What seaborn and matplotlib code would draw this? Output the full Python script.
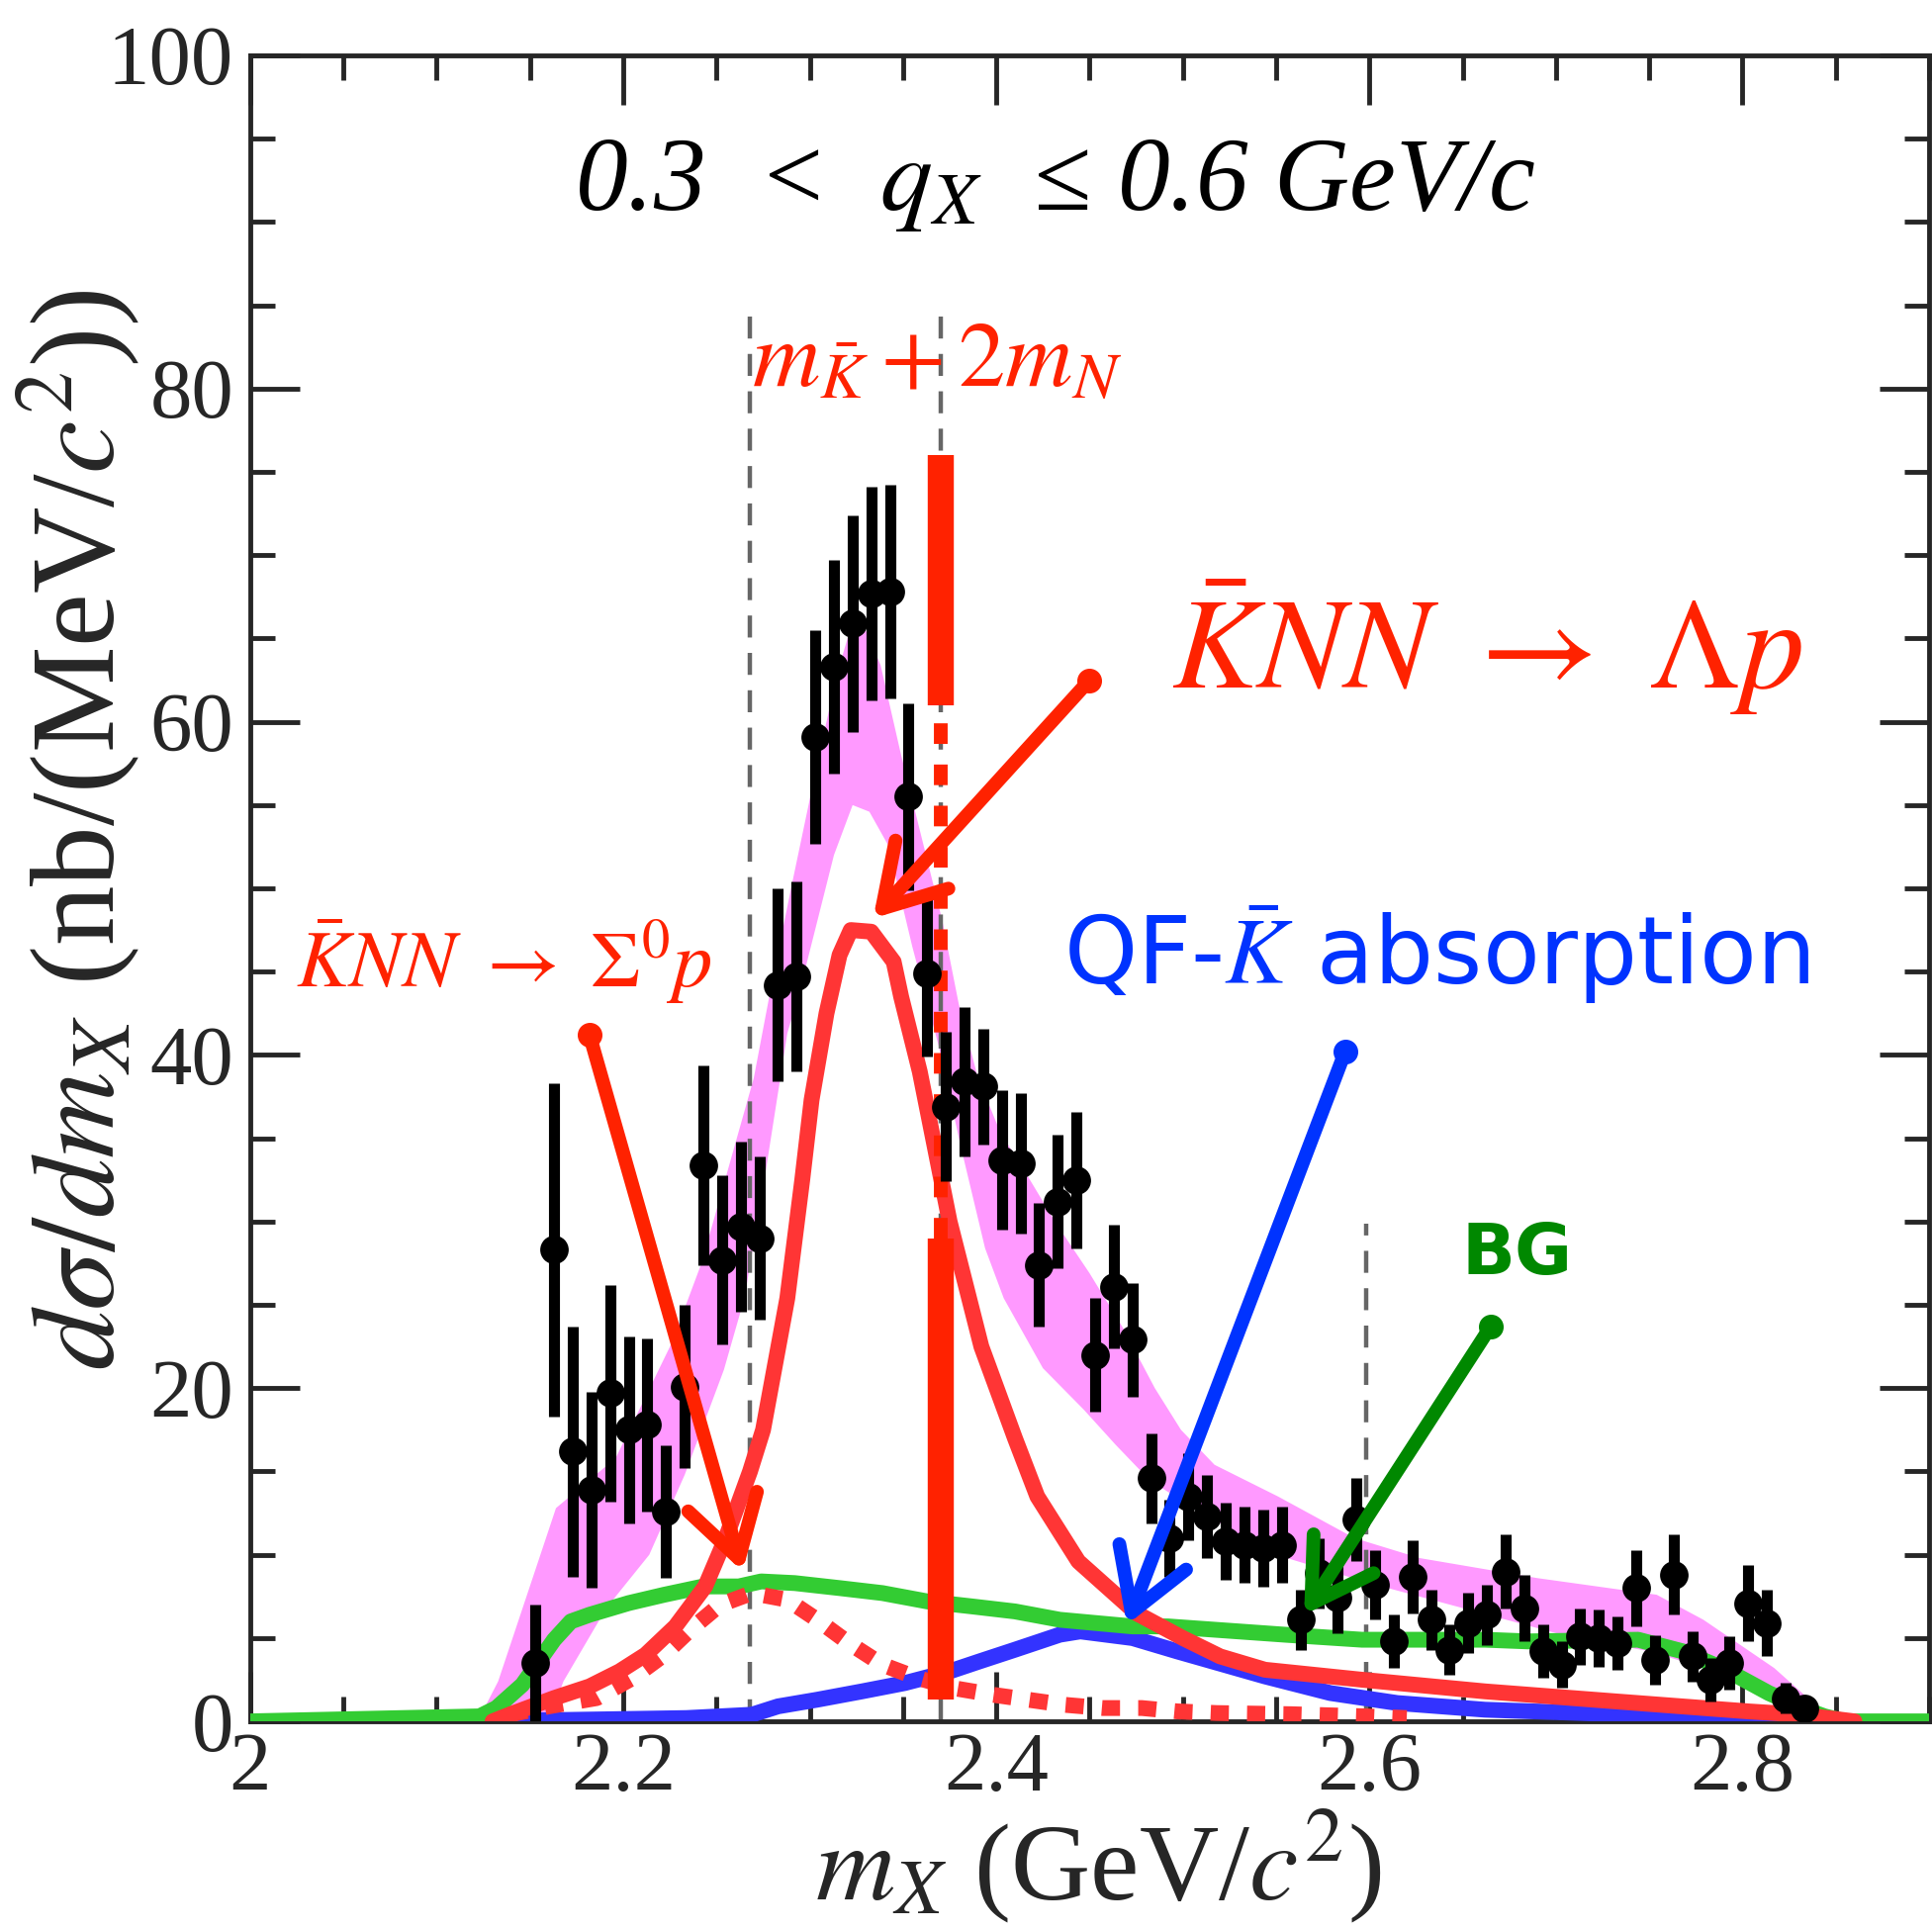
"""
plot.py
d(sigma)/dm_X spectrum for 0.3 < q_X <= 0.6 GeV/c with fit components.
"""

import numpy as np
import pandas as pd
import matplotlib
matplotlib.use('Agg')
import matplotlib.pyplot as plt
import seaborn as sns

# ---- measured points (GeV/c^2, nb/(MeV/c^2)) ----
m_x = [2.153, 2.163, 2.173, 2.183, 2.193, 2.203, 2.213, 2.223, 2.233, 2.243,
       2.253, 2.263, 2.273, 2.283, 2.293, 2.303, 2.313, 2.323, 2.333, 2.343,
       2.353, 2.363, 2.373, 2.383, 2.393, 2.403, 2.413, 2.423, 2.433, 2.443,
       2.453, 2.463, 2.473, 2.483, 2.493, 2.503, 2.513, 2.523, 2.533, 2.543,
       2.553, 2.563, 2.573, 2.583, 2.593, 2.603, 2.613, 2.623, 2.633, 2.643,
       2.653, 2.663, 2.673, 2.683, 2.693, 2.703, 2.713, 2.723, 2.733, 2.743,
       2.753, 2.763, 2.773, 2.783, 2.793, 2.803, 2.813, 2.823, 2.833]
xsec = [3.5, 28.3, 16.2, 13.9, 19.7, 17.5, 17.8, 12.6, 20.1, 33.4,
        27.7, 29.7, 29.0, 44.2, 44.7, 59.1, 63.3, 65.9, 67.7, 67.8,
        55.5, 44.9, 36.9, 38.4, 38.1, 33.7, 33.5, 27.4, 31.2, 32.5,
        22.0, 26.1, 22.9, 14.6, 11.0, 13.5, 12.3, 10.8, 10.6, 10.4,
        10.6, 6.1, 8.9, 7.4, 12.1, 8.2, 4.8, 8.7, 6.1, 4.3,
        5.9, 6.4, 9.0, 6.8, 4.2, 3.4, 5.1, 5.0, 4.7, 8.0,
        3.7, 8.8, 3.9, 2.5, 3.5, 7.1, 5.9, 1.4, 0.8]
xsec_err = [3.5, 10.0, 7.5, 5.9, 6.5, 5.6, 5.2, 4.0, 4.9, 6.0,
            5.1, 5.1, 4.9, 5.8, 5.7, 6.4, 6.4, 6.5, 6.4, 6.4,
            5.6, 5.0, 4.5, 4.5, 3.5, 4.2, 4.2, 3.7, 4.0, 4.1,
            3.4, 3.7, 3.4, 2.7, 2.3, 2.6, 2.5, 2.3, 2.3, 2.3,
            2.3, 1.8, 2.1, 2.1, 2.5, 2.1, 1.6, 2.2, 1.8, 1.5,
            1.8, 1.8, 2.2, 2.0, 1.6, 1.4, 1.7, 1.7, 1.6, 2.3,
            1.5, 2.4, 1.5, 1.3, 1.6, 2.3, 2.0, 0.9, 0.6]

# ---- total fit band (magenta) ----
band_hi_x = [2.122, 2.133, 2.164, 2.196, 2.226, 2.242, 2.270, 2.279, 2.290, 2.305,
             2.315, 2.325, 2.338, 2.349, 2.359, 2.371, 2.380, 2.390, 2.402, 2.417,
             2.432, 2.450, 2.468, 2.485, 2.499, 2.517, 2.551, 2.592, 2.627, 2.690,
             2.754, 2.779, 2.817, 2.837, 2.845]
band_hi_y = [0.0, 2.4, 12.8, 15.8, 22.7, 27.5, 38.6, 43.9, 50.0, 58.0,
             63.0, 66.8, 63.4, 58.0, 53.5, 48.1, 43.0, 38.7, 35.4, 32.7,
             29.9, 26.9, 23.6, 20.0, 17.5, 15.4, 13.5, 11.0, 9.8, 8.6,
             7.6, 6.1, 3.2, 1.2, 0.0]
band_lo_x = [2.160, 2.168, 2.191, 2.214, 2.233, 2.254, 2.265, 2.275, 2.288, 2.295,
             2.313, 2.323, 2.332, 2.342, 2.355, 2.369, 2.381, 2.394, 2.404, 2.425,
             2.447, 2.464, 2.482, 2.500, 2.526, 2.550, 2.600, 2.650, 2.700, 2.750,
             2.780, 2.830, 2.845]
band_lo_y = [0.0, 2.4, 6.8, 10.0, 14.8, 21.1, 25.4, 32.0, 41.3, 44.0,
             52.0, 55.0, 54.6, 52.6, 46.5, 40.6, 34.5, 28.4, 25.4, 21.2,
             18.7, 16.6, 14.5, 13.2, 11.5, 10.0, 8.3, 6.8, 5.3, 4.2,
             3.2, 0.5, 0.0]

# ---- K-NN -> Lambda p (red solid) ----
lp_x = [2.130, 2.139, 2.163, 2.182, 2.198, 2.212, 2.228, 2.244, 2.255, 2.268,
        2.275, 2.288, 2.296, 2.301, 2.309, 2.316, 2.322, 2.333, 2.345, 2.349,
        2.359, 2.375, 2.392, 2.410, 2.422, 2.444, 2.475, 2.500, 2.520, 2.544,
        2.596, 2.662, 2.732, 2.803, 2.831, 2.860]
lp_y = [0.0, 0.4, 1.4, 2.1, 3.0, 4.0, 5.7, 8.1, 11.0, 15.0,
        17.5, 25.4, 32.5, 37.3, 42.5, 46.0, 47.5, 47.4, 45.6, 43.5,
        39.0, 30.0, 22.5, 17.0, 13.5, 9.6, 6.5, 5.0, 3.9, 3.1,
        2.5, 1.8, 1.2, 0.6, 0.4, 0.0]

# ---- K-NN -> Sigma0 p (red dashed) ----
sp_x = [2.139, 2.160, 2.186, 2.205, 2.222, 2.236, 2.252, 2.269, 2.288, 2.304,
        2.321, 2.339, 2.358, 2.377, 2.398, 2.417, 2.436, 2.457, 2.478, 2.497,
        2.518, 2.558, 2.598, 2.620]
sp_y = [0.4, 0.9, 1.4, 2.6, 4.0, 5.5, 7.0, 7.7, 7.3, 6.1,
        4.7, 3.4, 2.6, 2.0, 1.6, 1.3, 1.0, 0.8, 0.8, 0.6,
        0.5, 0.43, 0.3, 0.2]

# ---- QF-K absorption (blue) ----
qf_x = [2.120, 2.234, 2.269, 2.283, 2.304, 2.328, 2.351, 2.375, 2.391, 2.410,
        2.434, 2.445, 2.473, 2.497, 2.544, 2.579, 2.615, 2.662, 2.732, 2.803,
        2.834, 2.850]
qf_y = [0.0, 0.2, 0.4, 0.9, 1.3, 1.8, 2.3, 3.0, 3.6, 4.3,
        5.2, 5.4, 5.0, 4.2, 2.7, 1.7, 1.1, 0.7, 0.43, 0.3,
        0.2, 0.0]

# ---- background (green) ----
bg_x = [2.000, 2.123, 2.132, 2.146, 2.163, 2.172, 2.182, 2.203, 2.222, 2.243,
        2.262, 2.274, 2.292, 2.316, 2.339, 2.363, 2.387, 2.410, 2.434, 2.473,
        2.492, 2.555, 2.596, 2.662, 2.685, 2.744, 2.768, 2.791, 2.814, 2.834,
        2.844, 2.855, 2.900]
bg_y = [0.0, 0.3, 0.8, 2.2, 4.9, 6.0, 6.4, 7.1, 7.6, 8.1,
        8.1, 8.4, 8.3, 8.0, 7.7, 7.2, 6.9, 6.6, 6.1, 5.7,
        5.7, 5.2, 4.9, 4.9, 4.8, 4.9, 4.2, 3.1, 1.7, 0.7,
        0.3, 0.0, 0.0]

threshold = 2.370          # m_K + 2 m_N
guide_x = [2.268, 2.370, 2.598]
guide_top = [85.2, 85.2, 29.9]
bar_lower = [1.3, 29.0]
bar_upper = [61.0, 76.0]

RED = '#ff3535'
RED_DARK = '#ff2200'
GREEN = '#33cc33'
GREEN_DARK = '#008800'
BLUE = '#3333ff'
BLUE_DARK = '#0033ff'
PINK = '#ff99ff'
LW = 11.5

sns.set_theme(style='ticks')
plt.rcParams['font.family'] = ['Liberation Serif', 'DejaVu Serif']
plt.rcParams['mathtext.fontset'] = 'stix'

fig = plt.figure(figsize=(19.53, 19.51), dpi=100)
ax = fig.add_axes([0.1294, 0.1081, 0.8691, 0.8632])

# magenta band
poly_x = band_hi_x + band_lo_x[::-1]
poly_y = band_hi_y + band_lo_y[::-1]
ax.fill(poly_x, poly_y, color=PINK, lw=0, zorder=1)

# gray guide lines
for gx, gt in zip(guide_x, guide_top):
    ax.plot([gx, gx], [0, gt], color='#666666', lw=3.2, ls=(0, (5, 3.5)), zorder=2)

# components
curves = pd.concat([
    pd.DataFrame({'m': qf_x, 'v': qf_y, 'comp': 'QF'}),
    pd.DataFrame({'m': bg_x, 'v': bg_y, 'comp': 'BG'}),
    pd.DataFrame({'m': lp_x, 'v': lp_y, 'comp': 'Lp'}),
])
sns.lineplot(data=curves, x='m', y='v', hue='comp', sort=False, estimator=None,
             palette={'BG': GREEN, 'QF': BLUE, 'Lp': RED}, linewidth=LW,
             legend=False, ax=ax, zorder=3)
ax.plot(sp_x, sp_y, color=RED, lw=LW, ls=(0, (1.15, 1.15)), zorder=3)

# threshold marker
ax.plot([threshold, threshold], bar_lower, color=RED_DARK, lw=19,
        solid_capstyle='butt', zorder=4)
ax.plot([threshold, threshold], bar_upper, color=RED_DARK, lw=19,
        solid_capstyle='butt', zorder=4)
ax.plot([threshold, threshold], [bar_lower[1], bar_upper[0]], color=RED_DARK,
        lw=10, ls=(0, (1.5, 1.5)), zorder=4)

# data
ax.errorbar(m_x, xsec, yerr=xsec_err, fmt='none', ecolor='black',
            elinewidth=8, capsize=0, zorder=5)
pts = pd.DataFrame({'m': m_x, 'v': xsec})
sns.scatterplot(data=pts, x='m', y='v', color='black', s=430, marker='o',
                edgecolor='black', linewidth=0, ax=ax, zorder=6)


def hand_arrow(tail, head, color):
    ax.annotate('', xy=head, xytext=tail,
                arrowprops=dict(arrowstyle='->,head_length=1.08,head_width=0.65',
                                color=color, lw=10, mutation_scale=40,
                                shrinkA=0, shrinkB=0, capstyle='round',
                                joinstyle='round'), zorder=7)
    ax.plot([tail[0]], [tail[1]], 'o', color=color, ms=17, zorder=7)


hand_arrow((2.450, 62.5), (2.334, 48.2), RED_DARK)
hand_arrow((2.182, 41.2), (2.264, 9.0), RED_DARK)
hand_arrow((2.587, 40.2), (2.470, 5.8), BLUE_DARK)
hand_arrow((2.665, 23.7), (2.565, 6.4), GREEN_DARK)

# labels inside
ax.text(2.4315, 92.2, '0.3  <  $q_X$  \u2264 0.6 GeV/c', fontsize=76,
        fontstyle='italic', ha='center', va='center', color='black')
ax.text(2.368, 81.5, r'$m_{\bar{K}} + 2m_N$', fontsize=68,
        ha='center', va='center', color=RED_DARK)
ax.text(2.663, 64.5, r'$\bar{K}NN\ \rightarrow\ \Lambda p$', fontsize=94,
        ha='center', va='center', color=RED_DARK)
ax.text(2.136, 45.6, r'$\bar{K}NN\ \rightarrow\ \Sigma^0 p$', fontsize=58,
        ha='center', va='center', color=RED_DARK)
ax.text(2.636, 46.0, r'QF-$\bar{K}$ absorption', fontsize=68,
        ha='center', va='center', color=BLUE_DARK, family=['DejaVu Sans'])
ax.text(2.679, 28.0, 'BG', fontsize=51, fontweight='bold',
        ha='center', va='center', color=GREEN_DARK, family=['DejaVu Sans'])

# axes
ax.set_xlim(2.0, 2.9)
ax.set_ylim(0, 100)
ax.set_xticks([2.0, 2.2, 2.4, 2.6, 2.8])
ax.set_xticklabels(['2', '2.2', '2.4', '2.6', '2.8'])
ax.set_xticks(np.arange(2.0, 2.91, 0.05), minor=True)
ax.set_yticks([0, 20, 40, 60, 80, 100])
ax.set_yticks(np.arange(0, 101, 5), minor=True)
ax.tick_params(which='both', direction='in', top=True, right=True,
               labelsize=61, width=3.5, pad=12)
ax.tick_params(axis='x', which='both', pad=8)
ax.tick_params(which='major', length=36)
ax.tick_params(which='minor', length=18)
for s in ax.spines.values():
    s.set_linewidth(3.5)

ax.set_xlabel(r'$m_X$ (GeV/$c^2$)', fontsize=80)
ax.set_ylabel(r'$d\sigma/dm_X$ (nb/(MeV/$c^2$))', fontsize=87)
ax.xaxis.set_label_coords(0.505, -0.051)
ax.yaxis.set_label_coords(-0.064, 0.535)

fig.savefig('out.png', dpi=100)
